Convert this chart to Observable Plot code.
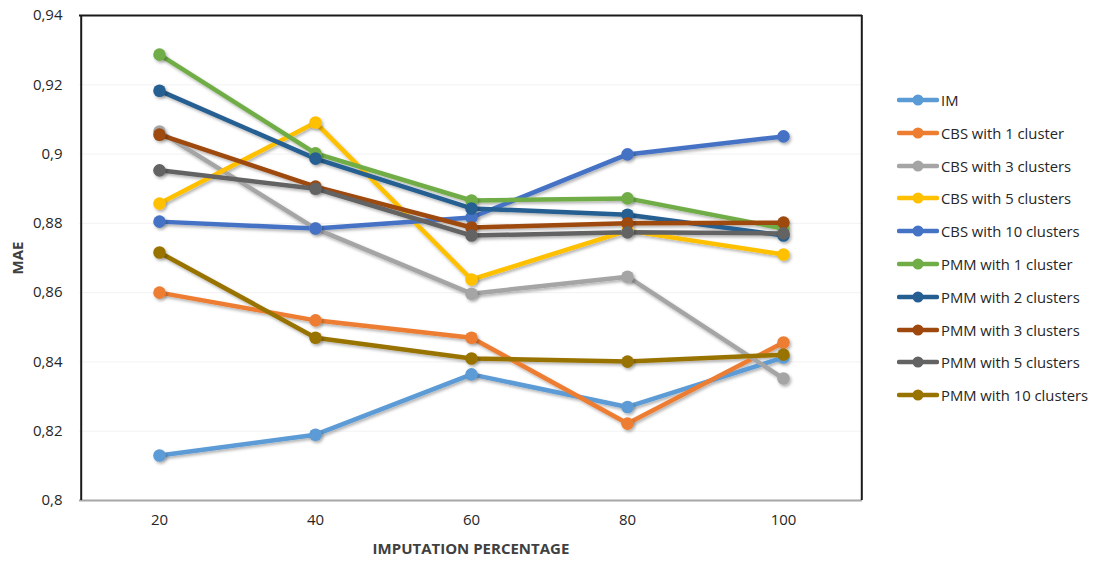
<!DOCTYPE html>
<html>
<head>
<meta charset="utf-8">
<script src="https://cdn.jsdelivr.net/npm/d3@7"></script>
<script src="https://cdn.jsdelivr.net/npm/@observablehq/plot@0.6"></script>
<style>
  html, body { margin: 0; padding: 0; background: #fff; }
  #wrap { position: relative; width: 1097px; height: 561px; font-family: "Open Sans", sans-serif; }
  #legend { position: absolute; left: 897px; top: 83.6px; font-size: 14.8px; color: #262626; }
  .item { display: flex; align-items: center; height: 32.8px; white-space: nowrap; }
  .item svg { margin-right: 2px; }
</style>
</head>
<body>
<div id="wrap"></div>
<script>
// Imputation percentages on the x axis
const percentages = [20, 40, 60, 80, 100];

// Series names, in legend order
const methods = [
  "IM",
  "CBS with 1 cluster",
  "CBS with 3 clusters",
  "CBS with 5 clusters",
  "CBS with 10 clusters",
  "PMM with 1 cluster",
  "PMM with 2 clusters",
  "PMM with 3 clusters",
  "PMM with 5 clusters",
  "PMM with 10 clusters"
];

// MAE for each method at 20, 40, 60, 80, 100 %
const im     = [0.813, 0.819, 0.8364, 0.827, 0.8413];
const cbs1   = [0.860, 0.852, 0.847, 0.8222, 0.8456];
const cbs3   = [0.9065, 0.8785, 0.8597, 0.8646, 0.8352];
const cbs5   = [0.8857, 0.9091, 0.8638, 0.8779, 0.871];
const cbs10  = [0.8805, 0.8785, 0.8817, 0.8999, 0.9051];
const pmm1   = [0.9287, 0.9002, 0.8866, 0.8872, 0.8785];
const pmm2   = [0.9183, 0.8987, 0.8843, 0.8825, 0.8765];
const pmm3   = [0.9056, 0.8906, 0.8788, 0.880, 0.8802];
const pmm5   = [0.8953, 0.890, 0.8765, 0.8774, 0.8771];
const pmm10  = [0.8716, 0.847, 0.841, 0.8401, 0.8421];

const seriesValues = [im, cbs1, cbs3, cbs5, cbs10, pmm1, pmm2, pmm3, pmm5, pmm10];

const colors = ["#5B9BD5", "#ED7D31", "#A5A5A5", "#FFC000", "#4472C4",
                "#70AD47", "#255E91", "#9E480E", "#636363", "#997300"];

// Y axis ticks
const yTicks = [0.8, 0.82, 0.84, 0.86, 0.88, 0.9, 0.92, 0.94];

const rows = [];
methods.forEach((m, i) => {
  percentages.forEach((p, j) => rows.push({method: m, pct: p, mae: seriesValues[i][j]}));
});

const fmt = d => String(+d.toFixed(2)).replace(".", ",");

// attach the shared drop-shadow filter to a mark's group
const shadowed = (index, scales, values, dims, context, next) => {
  const g = next(index, scales, values, dims, context);
  g.setAttribute("filter", "url(#shadow)");
  return g;
};

const chart = Plot.plot({
  width: 1097,
  height: 561,
  marginLeft: 79,
  marginRight: 235,
  marginTop: 15,
  marginBottom: 61,
  style: {fontFamily: "Open Sans, sans-serif", fontSize: "15px", color: "#262626", background: "#fff"},
  x: {type: "point", domain: percentages, padding: 0.5, label: null, tickSize: 0, tickPadding: 14},
  y: {domain: [0.8, 0.94], ticks: yTicks, tickFormat: fmt, label: null, tickSize: 0, tickPadding: 17},
  color: {domain: methods, range: colors},
  marks: [
    Plot.gridY(yTicks, {stroke: "#d9d9d9", strokeOpacity: 0.35, strokeWidth: 1}),
    Plot.line(rows, {x: "pct", y: "mae", z: "method", stroke: "method", strokeWidth: 4.5,
      strokeLinejoin: "round", strokeLinecap: "round", render: shadowed}),
    Plot.dot(rows, {x: "pct", y: "mae", fill: "method", r: 6.3, render: shadowed}),
    // plot frame: gray bottom, dark top/left/right
    Plot.ruleY([0.8], {stroke: "#a6a6a6", strokeWidth: 2}),
    Plot.ruleY([0.94], {stroke: "#1a1a1a", strokeWidth: 2}),
    Plot.ruleX([20], {stroke: "#1a1a1a", strokeWidth: 2, dx: -78.3, y1: 0.8, y2: 0.94}),
    Plot.ruleX([100], {stroke: "#1a1a1a", strokeWidth: 2, dx: 78.3, y1: 0.8, y2: 0.94})
  ]
});

// soft drop shadow under lines and markers
const defs = d3.select(chart).insert("defs", ":first-child");
const f = defs.append("filter").attr("id", "shadow").attr("x", "-10%").attr("y", "-10%")
  .attr("width", "130%").attr("height", "130%");
f.append("feDropShadow").attr("dx", 1.5).attr("dy", 2).attr("stdDeviation", 1.5)
  .attr("flood-color", "#000").attr("flood-opacity", 0.3);

// axis titles
const svg = d3.select(chart);
svg.append("text").attr("x", 471).attr("y", 554).attr("text-anchor", "middle")
  .attr("font-weight", "bold").attr("font-size", 15).attr("fill", "#404040")
  .text("IMPUTATION PERCENTAGE");
svg.append("text").attr("transform", "translate(23,258) rotate(-90)").attr("text-anchor", "middle")
  .attr("font-weight", "bold").attr("font-size", 15).attr("fill", "#404040")
  .text("MAE");

const wrap = document.getElementById("wrap");
wrap.appendChild(chart);

// legend with line + marker swatches
const legend = document.createElement("div");
legend.id = "legend";
methods.forEach((m, i) => {
  const item = document.createElement("div");
  item.className = "item";
  item.innerHTML = `<svg width="42" height="12"><line x1="2" y1="6" x2="40" y2="6" stroke="${colors[i]}" stroke-width="4.5" stroke-linecap="round"/><circle cx="21" cy="6" r="5.5" fill="${colors[i]}"/></svg><span>${m}</span>`;
  legend.appendChild(item);
});
wrap.appendChild(legend);
</script>
</body>
</html>
